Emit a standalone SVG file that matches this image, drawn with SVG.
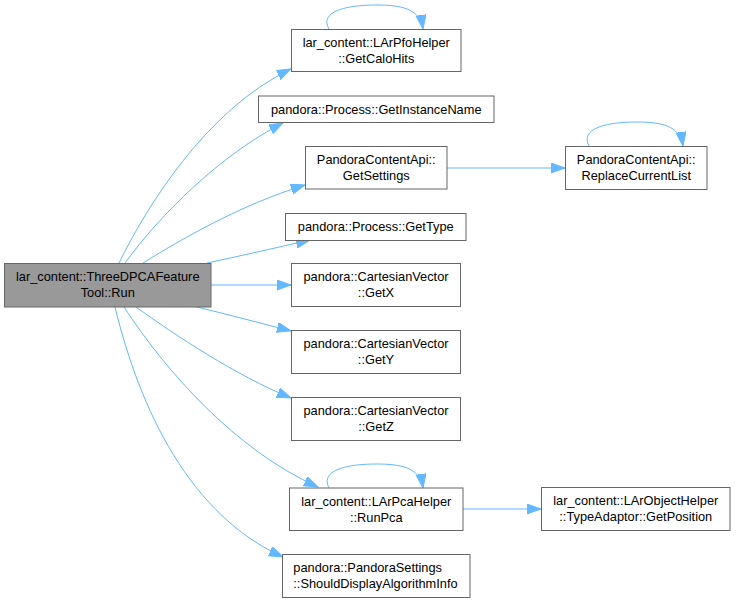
<svg xmlns="http://www.w3.org/2000/svg" width="736" height="603" viewBox="0 0 736 603">
<style>
.n rect{fill:#ffffff;stroke:#666666;stroke-width:1}
.n.root rect{fill:#999999}
.n text{font-family:"Liberation Sans",Arial,sans-serif;font-size:12.8px;fill:#000000;text-anchor:middle}
.n text.l{text-anchor:start}
.e path{fill:none;stroke:#63b8ff;stroke-width:1;marker-end:url(#ah)}
</style>
<defs>
<marker id="ah" markerUnits="userSpaceOnUse" markerWidth="15" markerHeight="11" refX="14" refY="5" orient="auto">
<path d="M0,0 L14,5 L0,10 z" fill="#63b8ff" stroke="#63b8ff" stroke-width="1"/>
</marker>
</defs>
<rect width="736" height="603" fill="#ffffff"/>
<g id="edges" class="e">
<path d="M119,263 C145,210 205,110 291,69"/>
<path d="M125,263 C160,215 220,155 283,123"/>
<path d="M143,263 C180,240 240,205 305,185"/>
<path d="M207,263 C240,256 275,248 310,240"/>
<path d="M211,285 L291,285"/>
<path d="M197,307 C230,315 260,323 291,331"/>
<path d="M136,307 C175,335 235,375 291,398"/>
<path d="M124,307 C165,370 235,450 318,487"/>
<path d="M115,307 C140,410 190,515 283,557"/>
<path d="M447,168 L565,168"/>
<path d="M463,509 L541,509"/>
<path d="M329,29 C319,12 345,5 376,5 C400,5 420,8 423,29"/>
<path d="M589,146 C580,129 605,122 636,122 C660,122 680,125 683,146"/>
<path d="M329,488 C320,471 345,464 376,464 C400,464 420,467 423,488"/>
</g>
<g id="node-run" class="n root">
<rect x="4.5" y="263.5" width="206.5" height="43.5"/>
<text x="107.75" y="281">lar_content::ThreeDPCAFeature</text>
<text x="107.75" y="297">Tool::Run</text>
</g>
<g id="node-getcalohits" class="n">
<rect x="291.5" y="29.5" width="169.5" height="42"/>
<text x="376.25" y="47">lar_content::LArPfoHelper</text>
<text x="376.25" y="63">::GetCaloHits</text>
</g>
<g id="node-getinstancename" class="n">
<rect x="258.5" y="96" width="235.5" height="26.5"/>
<text x="376.25" y="113.8">pandora::Process::GetInstanceName</text>
</g>
<g id="node-getsettings" class="n">
<rect x="305.5" y="146.5" width="141.5" height="42.5"/>
<text x="376.25" y="164">PandoraContentApi::</text>
<text x="376.25" y="180">GetSettings</text>
</g>
<g id="node-replacecurrentlist" class="n">
<rect x="565.5" y="146.5" width="141.5" height="43"/>
<text x="636.25" y="164">PandoraContentApi::</text>
<text x="636.25" y="180">ReplaceCurrentList</text>
</g>
<g id="node-gettype" class="n">
<rect x="285.5" y="213.5" width="180.5" height="27"/>
<text x="375.75" y="231">pandora::Process::GetType</text>
</g>
<g id="node-getx" class="n">
<rect x="291.5" y="263.5" width="169" height="43"/>
<text x="376" y="281">pandora::CartesianVector</text>
<text x="376" y="297">::GetX</text>
</g>
<g id="node-gety" class="n">
<rect x="291.5" y="330.5" width="169" height="43"/>
<text x="376" y="348">pandora::CartesianVector</text>
<text x="376" y="364">::GetY</text>
</g>
<g id="node-getz" class="n">
<rect x="291.5" y="397.5" width="169" height="43"/>
<text x="376" y="415">pandora::CartesianVector</text>
<text x="376" y="431">::GetZ</text>
</g>
<g id="node-runpca" class="n">
<rect x="289.5" y="488" width="173.5" height="42.5"/>
<text x="376.25" y="505.5">lar_content::LArPcaHelper</text>
<text x="376.25" y="521.5">::RunPca</text>
</g>
<g id="node-getposition" class="n">
<rect x="541.5" y="487.5" width="188.5" height="43"/>
<text x="635.75" y="505">lar_content::LArObjectHelper</text>
<text x="635.75" y="521">::TypeAdaptor::GetPosition</text>
</g>
<g id="node-shoulddisplay" class="n">
<rect x="282.5" y="554.5" width="187.5" height="43"/>
<text class="l" x="293.3" y="572">pandora::PandoraSettings</text>
<text class="l" x="293.3" y="588">::ShouldDisplayAlgorithmInfo</text>
</g>
</svg>
